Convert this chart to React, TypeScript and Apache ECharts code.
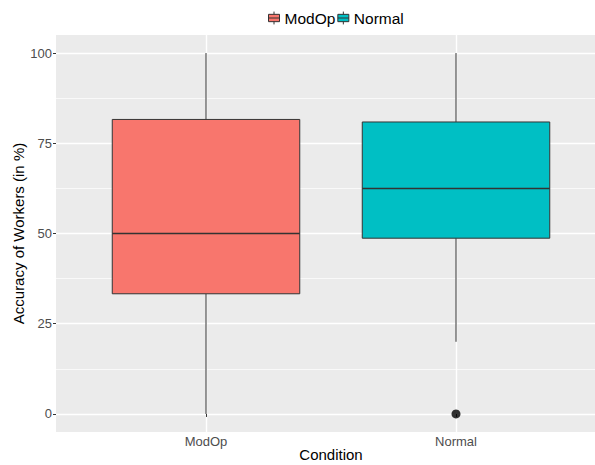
import React, { useEffect, useRef } from "react";
import * as echarts from "echarts";

const categories = ["ModOp", "Normal"];
const categoryPositions = [1, 2];
const whiskerLow = [0, 20];
const quartile1 = [33.3, 48.7];
const medians = [50, 62.5];
const quartile3 = [81.6, 80.9];
const whiskerHigh = [100, 100];
const outliers: [number, number][] = [[2, 0]];
const colors = ["#F8766D", "#00BFC4"];
const yTicks = [0, 25, 50, 75, 100];
const yMinor = [12.5, 37.5, 62.5, 87.5];

const FONT = "Liberation Sans, Arial, Helvetica, sans-serif";

export default function App() {
  const ref = useRef<HTMLDivElement>(null);
  useEffect(() => {
    if (!ref.current) return;
    const chart = echarts.init(ref.current, null, { renderer: "svg" });
    const half = 0.375;
    const boxSeries = categories.map((name, i) => ({
      name,
      type: "custom",
      xAxisIndex: 0,
      yAxisIndex: 0,
      itemStyle: { color: colors[i], borderColor: "#333333", borderWidth: 1 },
      data: [[categoryPositions[i], whiskerLow[i], quartile1[i], medians[i], quartile3[i], whiskerHigh[i]]],
      renderItem: (params: any, api: any) => {
        const x = api.value(0);
        const lo = api.value(1);
        const q1 = api.value(2);
        const med = api.value(3);
        const q3 = api.value(4);
        const hi = api.value(5);
        const tl = api.coord([x - half, q3]);
        const br = api.coord([x + half, q1]);
        const c = api.coord([x, med]);
        const pLo = api.coord([x, lo]);
        const pHi = api.coord([x, hi]);
        const color = api.visual("color");
        return {
          type: "group",
          children: [
            { type: "line", shape: { x1: c[0], y1: pHi[1], x2: c[0], y2: tl[1] }, style: { stroke: "#333333", lineWidth: 1 } },
            { type: "line", shape: { x1: c[0], y1: br[1], x2: c[0], y2: pLo[1] }, style: { stroke: "#333333", lineWidth: 1 } },
            { type: "rect", shape: { x: tl[0], y: tl[1], width: br[0] - tl[0], height: br[1] - tl[1] }, style: { fill: color, stroke: "#333333", lineWidth: 1 } },
            { type: "line", shape: { x1: tl[0], y1: c[1], x2: br[0], y2: c[1] }, style: { stroke: "#333333", lineWidth: 1.5 } },
          ],
        };
      },
    }));
    const option: any = {
      animation: false,
      backgroundColor: "#FFFFFF",
      textStyle: { fontFamily: FONT },
      grid: {
        left: 56,
        right: -11,
        top: 35,
        bottom: 33,
        containLabel: false,
        outerBoundsMode: "none",
        backgroundColor: "#EBEBEB",
        show: true,
        borderWidth: 0,
      },
      legend: {
        left: 263,
        top: 5,
        itemWidth: 11,
        itemHeight: 14,
        itemGap: 2,
        textStyle: { fontSize: 15.5, color: "#000000", fontFamily: FONT },
        data: categories.map((name, i) => ({
          name,
          icon: "path://M6,0V3M0,3H12V11H0ZM0,7H12M6,11V14",
          itemStyle: { color: colors[i], borderColor: "#333333", borderWidth: 1 },
        })),
      },
      xAxis: {
        type: "value",
        min: 0.4,
        max: 2.6,
        name: "Condition",
        nameLocation: "middle",
        nameGap: 15,
        nameMoveOverlap: false,
        nameTextStyle: { fontSize: 15, color: "#000000", fontFamily: FONT },
        axisLine: { show: false },
        axisTick: { show: true, length: 3, customValues: categoryPositions, lineStyle: { color: "#333333" } },
        axisLabel: {
          customValues: categoryPositions,
          margin: 3,
          fontSize: 13,
          color: "#4D4D4D",
          fontFamily: FONT,
          formatter: (v: number) => categories[categoryPositions.indexOf(Math.round(v))] ?? "",
        },
        splitLine: { show: true, lineStyle: { color: "#FFFFFF", width: 1.4 } },
      },
      yAxis: [
        {
          type: "value",
          min: -5,
          max: 105,
          name: "Accuracy of Workers (in %)",
          nameLocation: "middle",
          nameGap: 30,
          nameMoveOverlap: false,
          nameRotate: 90,
          nameTextStyle: { fontSize: 15, color: "#000000", fontFamily: FONT },
          axisLine: { show: false },
          axisTick: { show: true, length: 3, customValues: yTicks, lineStyle: { color: "#333333" } },
          axisLabel: { customValues: yTicks, margin: 4, fontSize: 13, color: "#4D4D4D", fontFamily: FONT },
          splitLine: { show: true, lineStyle: { color: "#FFFFFF", width: 1.4 } },
        },
        {
          type: "value",
          min: -5,
          max: 105,
          position: "left",
          axisLine: { show: false },
          axisTick: { show: false, customValues: yMinor },
          axisLabel: { show: false, customValues: yMinor },
          splitLine: { show: true, lineStyle: { color: "#FFFFFF", width: 0.7 } },
        },
      ],
      series: [
        ...boxSeries,
        {
          name: "outliers",
          type: "scatter",
          data: outliers,
          symbol: "circle",
          symbolSize: 9,
          itemStyle: { color: "#000000" },
          z: 5,
        },
      ],
    };
    chart.setOption(option);
    return () => chart.dispose();
  }, []);
  return <div ref={ref} style={{ width: 595, height: 465, position: "absolute", left: 0, top: 0 }} />;
}
